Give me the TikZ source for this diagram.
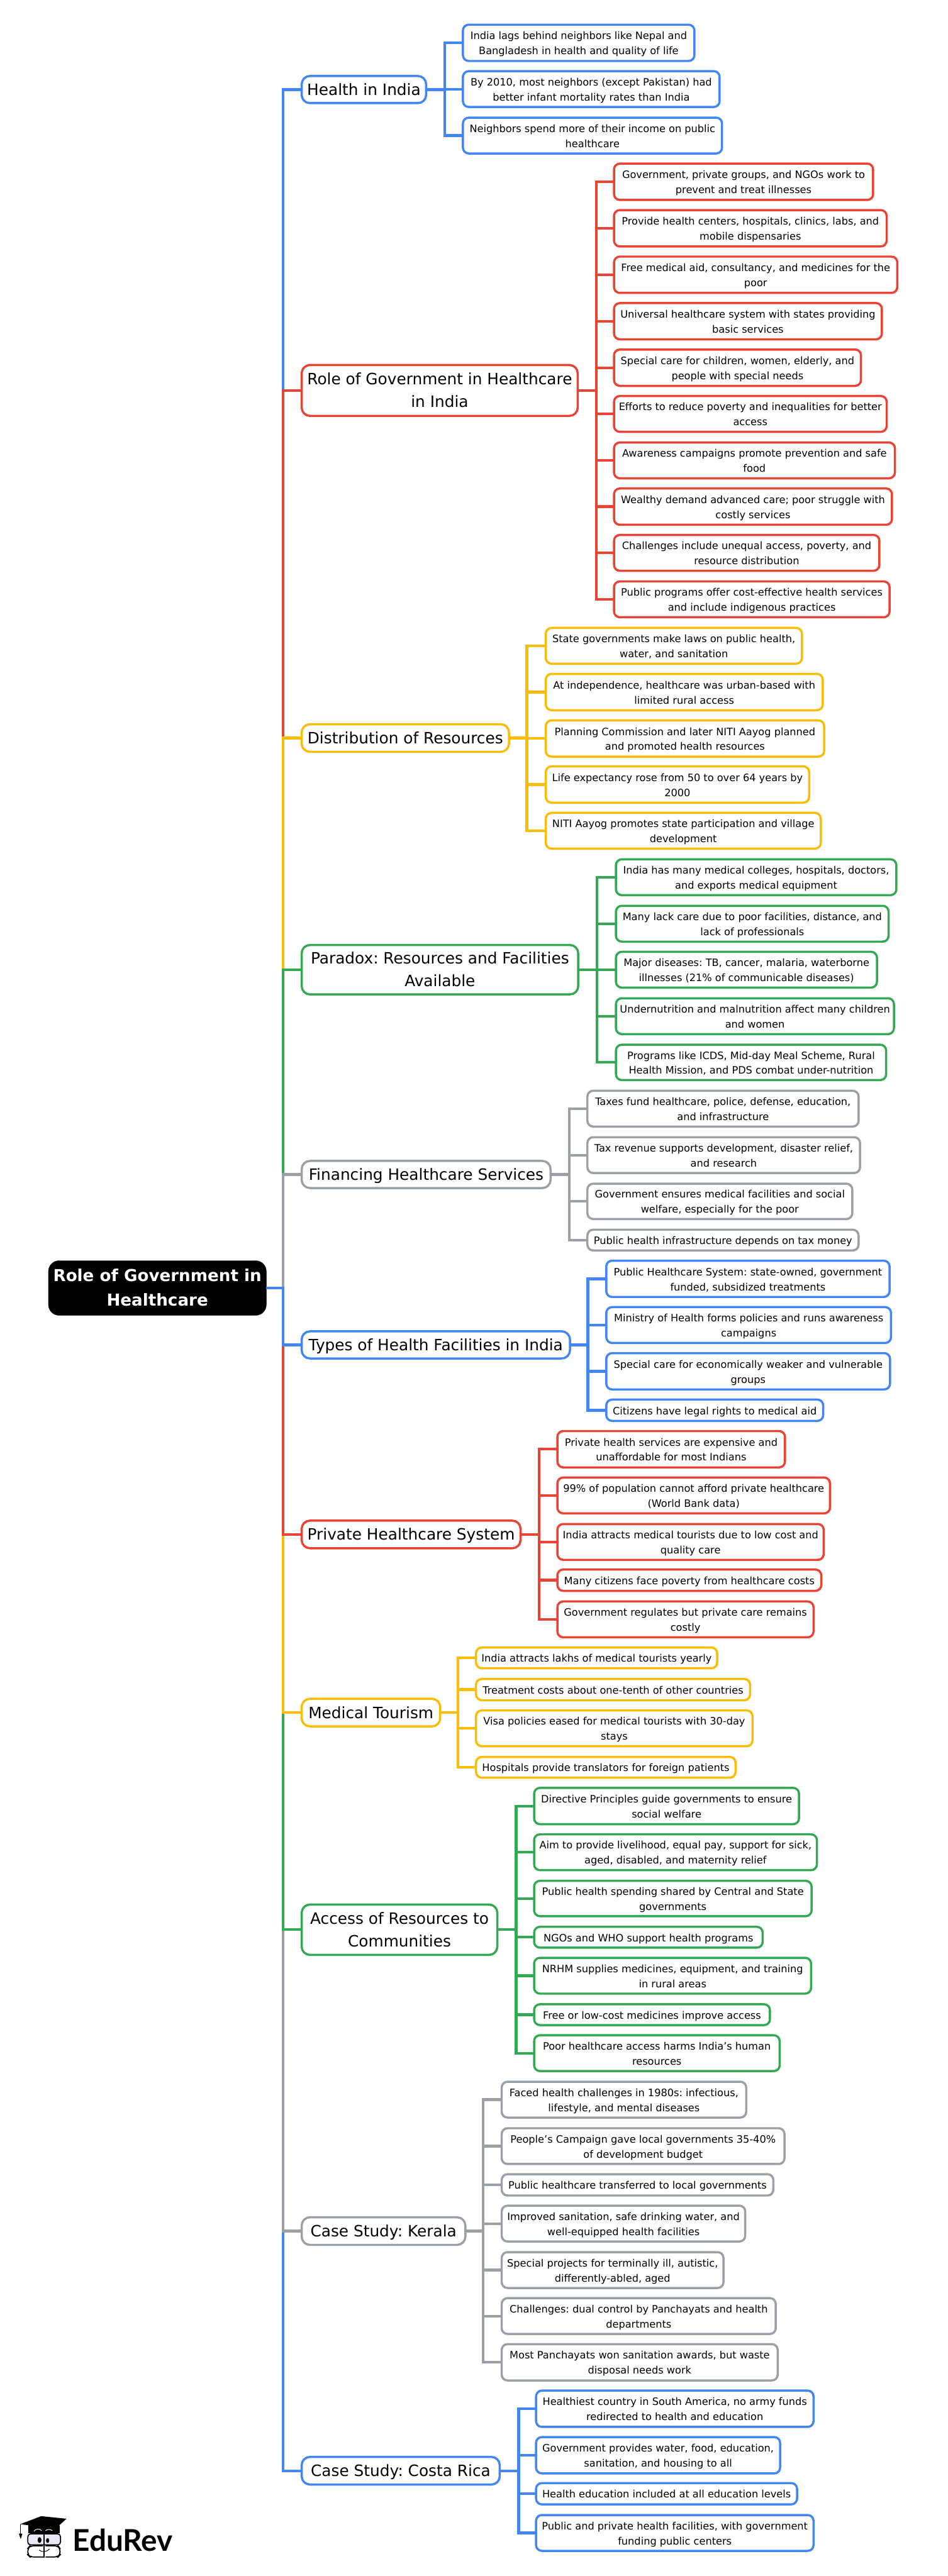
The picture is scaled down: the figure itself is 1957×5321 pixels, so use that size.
\documentclass[tikz,border=0pt]{standalone}
\usepackage{fontspec}
\setmainfont{DejaVu Sans}
\newfontfamily\logofont{Lato}
\frenchspacing
\definecolor{cblue}{HTML}{4285F4}
\definecolor{cred}{HTML}{EA4335}
\definecolor{cyel}{HTML}{FBBC04}
\definecolor{cgrn}{HTML}{34A853}
\definecolor{cgry}{HTML}{9AA0A6}
\tikzset{
  leafbox/.style={rounded corners=12pt,line width=4.5pt,fill=white,align=center,inner sep=0pt,outer sep=0pt,text=black,font=\fontsize{21}{31}\selectfont},
  branchbox/.style={rounded corners=17pt,line width=4.5pt,fill=white,align=center,inner sep=0pt,outer sep=0pt,text=black,font=\fontsize{32.2}{47}\selectfont},
  rootbox/.style={rounded corners=22pt,fill=black,align=center,inner sep=0pt,outer sep=0pt,text=white,font=\fontsize{34}{51}\selectfont\bfseries},
  conn/.style={line width=5.5pt,line join=miter}
}
\newcommand\mybox[8]{%
  \pgfmathsetmacro\bw{#5-#3}\pgfmathsetmacro\bh{#6-#4}%
  \pgfmathsetmacro\cx{(#3+#5)/2}\pgfmathsetmacro\cy{(#4+#6)/2}%
  \node[#8,draw=#2,minimum width=\bw pt,minimum height=\bh pt] (#1) at (\cx,\cy) {#7};}
\newcommand\lf[7]{\mybox{#1}{#2}{#3}{#4}{#5}{#6}{\rule{0pt}{24.2pt}#7\rule[-6.8pt]{0pt}{6.8pt}}{leafbox}}
\newcommand\br[7]{\mybox{#1}{#2}{#3}{#4}{#5}{#6}{\rule{0pt}{35.2pt}#7\rule[-11.8pt]{0pt}{11.8pt}}{branchbox}}
\begin{document}
\begin{tikzpicture}[x=1pt,y=-1pt]
\useasboundingbox[fill=white] (0,0) rectangle (1957,5321);
% root
\mybox{root}{black}{100}{2604}{550}{2717}{\rule{0pt}{37.5pt}Role of Government in\\Healthcare\rule[-13.5pt]{0pt}{13.5pt}}{rootbox}
\coordinate (tr) at (584.5,2660.5);
% Branches
\br{hi}{cblue}{623}{157}{880}{213}{Health in India}
\br{ro}{cred}{623}{754}{1193}{859}{Role of Government in Healthcare\\in India}
\br{di}{cyel}{623}{1496}{1051}{1553}{Distribution of Resources}
\br{pa}{cgrn}{623}{1952}{1194}{2054}{Paradox: Resources and Facilities\\Available}
\br{fi}{cgry}{623}{2398}{1137}{2454}{Financing Healthcare Services}
\br{ty}{cblue}{623}{2750}{1177}{2806}{Types of Health Facilities in India}
\br{pr}{cred}{623}{3141}{1075}{3198}{Private Healthcare System}
\br{me}{cyel}{623}{3509}{909}{3566}{Medical Tourism}
\br{ac}{cgrn}{623}{3934}{1027}{4038}{Access of Resources to\\Communities}
\br{ke}{cgry}{623}{4580}{961}{4637}{Case Study: Kerala}
\br{co}{cblue}{623}{5075}{1032}{5132}{Case Study: Costa Rica}
% Health
\lf{h1}{cblue}{956}{51}{1434}{126}{India lags behind neighbors like Nepal and\\Bangladesh in health and quality of life}
\lf{h2}{cblue}{956}{147}{1486}{221}{By 2010, most neighbors (except Pakistan) had\\better infant mortality rates than India}
\lf{h3}{cblue}{956}{243}{1491}{317}{Neighbors spend more of their income on public\\healthcare}
% Role
\lf{r1}{cred}{1268}{338}{1803}{413}{Government, private groups, and NGOs work to\\prevent and treat illnesses}
\lf{r2}{cred}{1268}{434}{1831}{509}{Provide health centers, hospitals, clinics, labs, and\\mobile dispensaries}
\lf{r3}{cred}{1268}{530}{1853}{605}{Free medical aid, consultancy, and medicines for the\\poor}
\lf{r4}{cred}{1268}{626}{1821}{701}{Universal healthcare system with states providing\\basic services}
\lf{r5}{cred}{1268}{722}{1778}{797}{Special care for children, women, elderly, and\\people with special needs}
\lf{r6}{cred}{1268}{818}{1831}{892}{Efforts to reduce poverty and inequalities for better\\access}
\lf{r7}{cred}{1268}{914}{1848}{988}{Awareness campaigns promote prevention and safe\\food}
\lf{r8}{cred}{1268}{1009}{1842}{1084}{Wealthy demand advanced care; poor struggle with\\costly services}
\lf{r9}{cred}{1268}{1105}{1816}{1179}{Challenges include unequal access, poverty, and\\resource distribution}
\lf{r10}{cred}{1268}{1201}{1837}{1275}{Public programs offer cost-effective health services\\and include indigenous practices}
% Distribution
\lf{d1}{cyel}{1127}{1297}{1656}{1371}{State governments make laws on public health,\\water, and sanitation}
\lf{d2}{cyel}{1127}{1392}{1699}{1467}{At independence, healthcare was urban-based with\\limited rural access}
\lf{d3}{cyel}{1127}{1488}{1702}{1563}{Planning Commission and later NITI Aayog planned\\and promoted health resources}
\lf{d4}{cyel}{1127}{1583}{1671}{1658}{Life expectancy rose from 50 to over 64 years by\\2000}
\lf{d5}{cyel}{1127}{1679}{1695}{1753}{NITI Aayog promotes state participation and village\\development}
% Paradox
\lf{p1}{cgrn}{1272}{1775}{1851}{1849}{India has many medical colleges, hospitals, doctors,\\and exports medical equipment}
\lf{p2}{cgrn}{1272}{1871}{1835}{1945}{Many lack care due to poor facilities, distance, and\\lack of professionals}
\lf{p3}{cgrn}{1272}{1966}{1811}{2040}{Major diseases: TB, cancer, malaria, waterborne\\illnesses (21\% of communicable diseases)}
\lf{p4}{cgrn}{1272}{2062}{1846}{2136}{Undernutrition and malnutrition affect many children\\and women}
\lf{p5}{cgrn}{1272}{2158}{1830}{2231}{Programs like ICDS, Mid-day Meal Scheme, Rural\\Health Mission, and PDS combat under-nutrition}
% Financing
\lf{f1}{cgry}{1213}{2253}{1773}{2327}{Taxes fund healthcare, police, defense, education,\\and infrastructure}
\lf{f2}{cgry}{1213}{2349}{1776}{2423}{Tax revenue supports development, disaster relief,\\and research}
\lf{f3}{cgry}{1213}{2445}{1760}{2518}{Government ensures medical facilities and social\\welfare, especially for the poor}
\lf{f4}{cgry}{1213}{2540}{1773}{2583}{Public health infrastructure depends on tax money}
% Types
\lf{t1}{cblue}{1252}{2604}{1837}{2679}{Public Healthcare System: state-owned, government\\funded, subsidized treatments}
\lf{t2}{cblue}{1252}{2700}{1840}{2774}{Ministry of Health forms policies and runs awareness\\campaigns}
\lf{t3}{cblue}{1252}{2795}{1838}{2870}{Special care for economically weaker and vulnerable\\groups}
\lf{t4}{cblue}{1252}{2891}{1700}{2935}{Citizens have legal rights to medical aid}
% Private
\lf{v1}{cred}{1151}{2956}{1621}{3031}{Private health services are expensive and\\unaffordable for most Indians}
\lf{v2}{cred}{1151}{3052}{1714}{3126}{99\% of population cannot afford private healthcare\\(World Bank data)}
\lf{v3}{cred}{1151}{3148}{1701}{3222}{India attracts medical tourists due to low cost and\\quality care}
\lf{v4}{cred}{1151}{3242}{1696}{3286}{Many citizens face poverty from healthcare costs}
\lf{v5}{cred}{1151}{3308}{1680}{3382}{Government regulates but private care remains\\costly}
% Medical
\lf{m1}{cyel}{983}{3403}{1481}{3446}{India attracts lakhs of medical tourists yearly}
\lf{m2}{cyel}{983}{3468}{1549}{3512}{Treatment costs about one-tenth of other countries}
\lf{m3}{cyel}{983}{3533}{1554}{3607}{Visa policies eased for medical tourists with 30-day\\stays}
\lf{m4}{cyel}{983}{3629}{1519}{3672}{Hospitals provide translators for foreign patients}
% Access
\lf{a1}{cgrn}{1103}{3693}{1650}{3768}{Directive Principles guide governments to ensure\\social welfare}
\lf{a2}{cgrn}{1103}{3789}{1687}{3863}{Aim to provide livelihood, equal pay, support for sick,\\aged, disabled, and maternity relief}
\lf{a3}{cgrn}{1103}{3885}{1676}{3958}{Public health spending shared by Central and State\\governments}
\lf{a4}{cgrn}{1103}{3980}{1575}{4023}{NGOs and WHO support health programs}
\lf{a5}{cgrn}{1103}{4044}{1675}{4118}{NRHM supplies medicines, equipment, and training\\in rural areas}
\lf{a6}{cgrn}{1103}{4140}{1590}{4183}{Free or low-cost medicines improve access}
\lf{a7}{cgrn}{1103}{4204}{1610}{4278}{Poor healthcare access harms India’s human\\resources}
% Kerala
\lf{k1}{cgry}{1036}{4300}{1541}{4374}{Faced health challenges in 1980s: infectious,\\lifestyle, and mental diseases}
\lf{k2}{cgry}{1036}{4396}{1620}{4470}{People’s Campaign gave local governments 35-40\%\\of development budget}
\lf{k3}{cgry}{1036}{4491}{1597}{4535}{Public healthcare transferred to local governments}
\lf{k4}{cgry}{1036}{4556}{1539}{4630}{Improved sanitation, safe drinking water, and\\well-equipped health facilities}
\lf{k5}{cgry}{1036}{4652}{1494}{4726}{Special projects for terminally ill, autistic,\\differently-abled, aged}
\lf{k6}{cgry}{1036}{4747}{1602}{4821}{Challenges: dual control by Panchayats and health\\departments}
\lf{k7}{cgry}{1036}{4842}{1606}{4917}{Most Panchayats won sanitation awards, but waste\\disposal needs work}
% Costa Rica
\lf{c1}{cblue}{1107}{4938}{1680}{5013}{Healthiest country in South America, no army funds\\redirected to health and education}
\lf{c2}{cblue}{1107}{5034}{1611}{5109}{Government provides water, food, education,\\sanitation, and housing to all}
\lf{c3}{cblue}{1107}{5129}{1646}{5173}{Health education included at all education levels}
\lf{c4}{cblue}{1107}{5195}{1680}{5269}{Public and private health facilities, with government\\funding public centers}
% trunk connectors
\foreach \n/\c in {hi/cblue,ro/cred,di/cyel,pa/cgrn,fi/cgry,co/cblue,ke/cgry,ac/cgrn,me/cyel,pr/cred,ty/cblue}
  \draw[conn,\c] (root.east) -- (tr) |- (\n.west);
% branch spines
\foreach \b/\sx/\c/\ls in {
  hi/918.5/cblue/{h1,h2,h3},
  ro/1232/cred/{r1,r2,r3,r4,r5,r6,r7,r8,r9,r10},
  di/1088/cyel/{d1,d2,d3,d4,d5},
  pa/1233/cgrn/{p1,p2,p3,p4,p5},
  fi/1176/cgry/{f1,f2,f3,f4},
  ty/1214/cblue/{t1,t2,t3,t4},
  pr/1113/cred/{v1,v2,v3,v4,v5},
  me/946/cyel/{m1,m2,m3,m4},
  ac/1066/cgrn/{a1,a2,a3,a4,a5,a6,a7},
  ke/998/cgry/{k1,k2,k3,k4,k5,k6,k7},
  co/1071/cblue/{c1,c2,c3,c4}}{
  \coordinate (sp) at (\sx,0);
  \coordinate (sb) at (sp |- \b.east);
  \foreach \l in \ls
    \draw[conn,\c] (\b.east) -- (sb) |- (\l.west);
}
% logo
\begin{scope}[shift={(20,5190)},x=0.3333pt,y=-0.3333pt]
  \fill[black] (115,78) -- (310,80) -- (310,128) -- (115,128) -- cycle;
  \fill[black] (65,72) -- (195,22) -- (352,38) -- (275,108) -- (200,88) -- cycle;
  \draw[white,line width=1.2pt] (150,115) .. controls (165,98) and (185,98) .. (198,112);
  \draw[white,line width=1.2pt] (222,112) .. controls (235,102) and (250,102) .. (265,112);
  \draw[black,line width=1.3pt] (68,72) -- (68,130);
  \fill[black] (57,130) -- (79,130) -- (68,164) -- cycle;
  \draw[black,line width=2.2pt,fill=cyan!10!blue!8!white,rounded corners=6pt] (112,132) rectangle (315,200);
  \draw[black,line width=2.2pt,rounded corners=8pt] (205,206) -- (125,206) -- (112,222) -- (112,262) -- (125,275) -- (208,275);
  \draw[black,line width=2.2pt,rounded corners=8pt] (222,206) -- (300,206) -- (312,222) -- (312,262) -- (300,275) -- (222,275);
  \draw[black,line width=2.2pt] (213,125) -- (213,278);
  \fill[black] (185,170) ellipse [x radius=12,y radius=18];
  \fill[black] (235,173) ellipse [x radius=10,y radius=15];
  \draw[black,line width=1.3pt] (182,232) .. controls (200,246) and (225,246) .. (246,226);
\end{scope}
\node[anchor=base west,inner sep=0pt,font=\logofont\bfseries\fontsize{62}{62}\selectfont] (logotext) at (150,5270) {EduRev};
\end{tikzpicture}
\end{document}
